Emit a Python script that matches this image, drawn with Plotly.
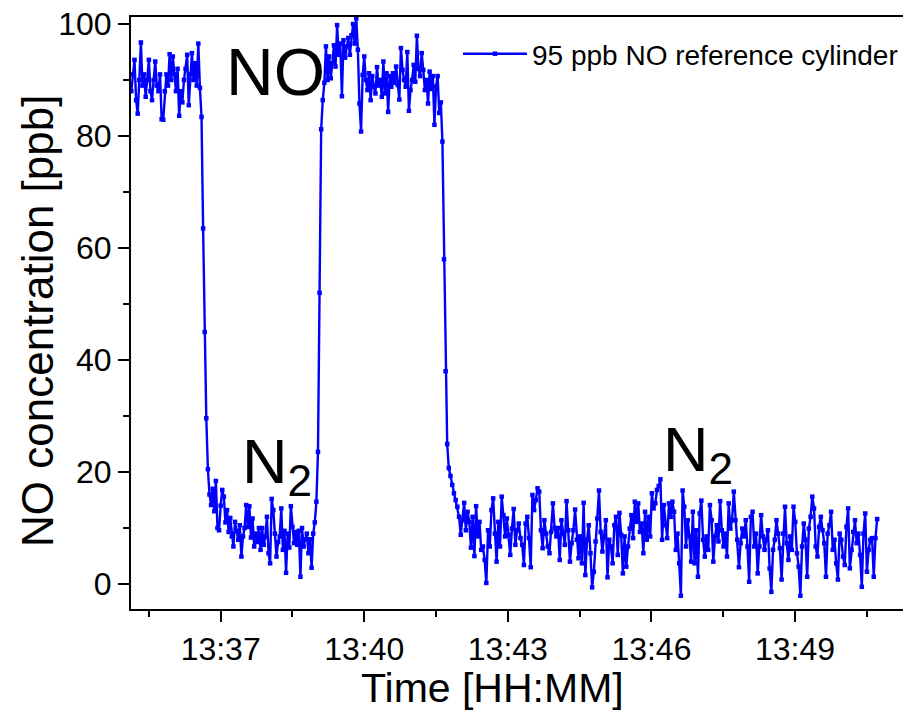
import pandas as pd
import plotly.graph_objects as go

# ---------------- data ----------------
no_level_1 = [88, 91, 93.6, 86.4, 84, 90, 96.7, 89, 91, 87, 90, 93.6, 88, 86.4, 90, 93.3,
              89, 88, 91, 83, 82.9, 88, 91, 89, 94.6, 90, 94.2, 91, 88, 92, 83.6, 88, 86,
              90, 92, 94.5, 85.5, 91, 94.8, 90, 93, 89, 96.5]
drop_1 = [88.6, 83.4, 63.5, 45, 29.6, 20.5]
n2_level_1 = [16, 14.1, 17, 13, 18.4, 10, 9.6, 14, 16.8, 15.6, 11, 13.2, 9.3, 11.8, 8.5, 6.7,
              11.1, 9.5, 7.9, 10.5, 4.9, 8.5, 10, 14.1, 10.2, 13.9, 8.3, 11.7, 6.7, 9, 7.5, 10,
              6.1, 10, 7, 8.5, 12, 5.5, 3.7, 15.2, 13.2, 9, 4.9, 7.5, 8.5, 13.5, 6.1, 9.5, 2,
              9, 6.5, 13.9, 10.2, 7.3, 9.3, 7, 9.5, 1.3, 10, 6.7, 8, 9, 5.5, 8, 2.9, 9, 11]
rise = [14.7, 23.6, 52]
no_level_2 = [81.2, 86.4, 89.5, 96, 90, 94.2, 90.3, 93, 96.2, 92.4, 99.8, 94.5, 96.5, 87.1,
              97.1, 94, 96, 97.5, 94.5, 98, 100, 96.5, 101, 95.4, 85.8, 80.8, 90.9, 94.2, 90,
              88.2, 91.2, 86.4, 90.7, 88.8, 87.6, 92.3, 89, 90, 87, 93.3, 87.6, 91.2, 84.3,
              90.7, 88.8, 91.2, 89.5, 92.4, 89.1, 86.5, 95.7, 91.8, 90, 88.8, 95, 84.5, 88.2,
              90, 92.7, 89.7, 97.9, 92, 90.7, 94.8, 91.8, 88.2, 90, 85.8, 91.5, 88.4, 90.7,
              82, 88.8, 90.7, 84.1, 86]
drop_2 = [79, 58, 38, 25]
n2_level_2 = [20.7, 19.3, 17.7, 16.2, 15, 13.8, 12, 8.8, 11.4, 14.5, 9.6, 12.9, 11.1, 6.5, 12,
              5, 13.9, 8.5, 11.1, 6.1, 6.7, 4.3, 0.2, 9.6, 6.7, 13.2, 15.3, 9, 4, 11.1, 6.7,
              15.6, 12.3, 8.5, 11.7, 8.8, 5.2, 9.9, 13.4, 7, 9.6, 10.8, 8.2, 7, 3.4, 10.8, 12,
              8.2, 3, 15.9, 13.2, 15, 17.1, 16.5, 9.6, 6.4, 11.4, 9, 6.7, 5.5, 9.3, 14.4, 10,
              8.5, 10, 4.3, 11.4, 9, 7, 14.8, 9.6, 4, 7.3, 9.6, 13.3, 7.9, 4.6, 8.5, 3.7, 14.5,
              1.6, 7.9, 10.5, 5.5, -0.6, 2.2, 7.6, 11.7, 16.7, 9.3, 5.8, 8.5, 11.4, 1.2, 7.9,
              6.7, 3.7, 10.5, 12, 5.2, 12.7, 8.8, 1.9, 8.5, 3.1, 6.7, 9.9, 12.3, 8.2, 14.7,
              11.1, 14.4, 9.3, 10.8, 5.5, 12.9, 7.9, 12, 8.5, 16.2, 13.5, 14.4, 16.8, 17.5,
              18.7, 7.9, 14.1, 10.5, 8.2, 14.4, 12, 14.7, 12.9, 6.1, 9, 3.7, -2.1, 16.7, 13.8,
              6.7, 11.4, 8.5, 4, 12.9, 3.7, 9.6, 1.3, 12.6, 14.9, 7.9, 4.9, 8.5, 6.1, 14.1,
              11.4, 4, 8.5, 10.5, 7.6, 14.8, 9.6, 6.7, 9, 4.9, 14.4, 9.9, 11.4, 16.5, 11.4,
              7.9, 3, 7.3, 9.9, 8.5, 11.4, 6.7, 0.4, 12, 12.9, 6.7, 9, 1.9, 6.7, 12.3, 8.5,
              6.1, 7.9, 9.6, 2.8, -1.4, 6.1, 7.9, 11.4, 9, 6.4, 0.8, 9, 13.8, 7.3, 4.3, 8.5,
              6.1, 13.8, 11.1, 5.5, 3.1, -2.1, 6.7, 10.8, 7.9, 1.3, 9.9, 12, 15.6, 13.5, 6.7,
              4.9, 10.2, 12, 9.6, 7.3, 1.3, 9, 10.5, 12.9, 6.1, 7.9, 3.7, 0.8, 9, 7.9, 4.9,
              3.4, 10.2, 13.5, 2.8, 6.1, 9.3, 11.4, 7.3, 9, 5.2, -0.5, 9, 12.6, 2.2, 6.1, 7.9,
              8.2, 1.3, 8.2, 11.6]

day = "2020-01-01 "
first_start = day + "13:35:08"      # first sample, 2 s sampling
second_start = day + "13:41:46"     # start of the final N2 period
second_end = day + "13:50:43"       # last sample
x_range = [day + "13:35:07.6", day + "13:51:15.4"]
y_range = [-4.46, 101.25]
y_ticks = [0, 20, 40, 60, 80, 100]
series_name = "95 ppb NO reference cylinder"

seg_a = no_level_1 + drop_1 + n2_level_1 + rise + no_level_2 + drop_2
t_a = pd.date_range(first_start, periods=len(seg_a), freq="2s")
t_b = pd.date_range(second_start, second_end, periods=len(n2_level_2))
times = list(t_a) + list(t_b)
values = seg_a + n2_level_2

# ---------------- figure ----------------
W, H = 903, 710
L, R, T, B = 131, 0, 17, 101
PW, PH = W - L - R, H - T - B
FONT = "Liberation Sans, Arial, Helvetica, sans-serif"
BLUE = "#0000FF"


def px(x):
    return (x - L) / PW


def py(y):
    return 1 - (y - T) / PH


fig = go.Figure()
fig.add_trace(go.Scatter(
    x=times, y=values, mode="lines+markers", name=series_name,
    line=dict(color=BLUE, width=2.4),
    marker=dict(symbol="square", size=4.5, color=BLUE),
))

axis_common = dict(showgrid=False, zeroline=False, linecolor="black", linewidth=2,
                   ticks="outside", tickcolor="black", tickwidth=2, ticklen=11,
                   tickfont=dict(family=FONT, size=32, color="black"))

fig.update_layout(
    width=W, height=H,
    margin=dict(l=L, r=R, t=T, b=B, pad=0),
    paper_bgcolor="white", plot_bgcolor="white",
    font=dict(family=FONT, color="black"),
    showlegend=True,
    legend=dict(x=px(458), y=py(29), xanchor="left", yanchor="top",
                bgcolor="rgba(0,0,0,0)", borderwidth=0,
                font=dict(family=FONT, size=28, color="black"), itemwidth=64),
    xaxis=dict(type="date", range=x_range, tickformat="%H:%M",
               tick0=day + "13:37:00", dtick=180000, mirror=True,
               minor=dict(dtick=90000, ticks="outside", ticklen=6, tickwidth=2,
                          tickcolor="black", tick0=day + "13:37:00"),
               **axis_common),
    xaxis2=dict(type="date", range=x_range, overlaying="x", side="top", anchor="y",
                showticklabels=False, showgrid=False, zeroline=False, showline=False,
                ticks="outside", ticklen=3, tickwidth=1.5, tickcolor="black",
                tick0=day + "13:37:00", dtick=90000),
    yaxis=dict(range=y_range, tickvals=y_ticks, mirror=False,
               minor=dict(dtick=10, ticks="outside", ticklen=6, tickwidth=2,
                          tickcolor="black"),
               **axis_common),
)

ann = []
# axis titles
ann.append(dict(text="Time [HH:MM]", x=px(492), y=py(688), xref="paper", yref="paper",
                xanchor="center", yanchor="middle", showarrow=False,
                font=dict(family=FONT, size=41, color="black")))
ann.append(dict(text="NO concentration [ppb]", x=px(37), y=py(321), xref="paper",
                yref="paper", xanchor="center", yanchor="middle", textangle=-90,
                showarrow=False, font=dict(family=FONT, size=44, color="black")))
# in-plot labels
ann.append(dict(text="NO", x=px(275), y=py(72), xref="paper", yref="paper",
                xanchor="center", yanchor="middle", showarrow=False,
                font=dict(family=FONT, size=66, color="black")))
ann.append(dict(text="N<sub>2</sub>", x=px(277), y=py(465), xref="paper", yref="paper",
                xanchor="center", yanchor="middle", showarrow=False,
                font=dict(family=FONT, size=63, color="black")))
ann.append(dict(text="N<sub>2</sub>", x=px(698), y=py(453), xref="paper", yref="paper",
                xanchor="center", yanchor="middle", showarrow=False,
                font=dict(family=FONT, size=63, color="black")))
fig.update_layout(annotations=ann)

fig.write_html("out.html")
